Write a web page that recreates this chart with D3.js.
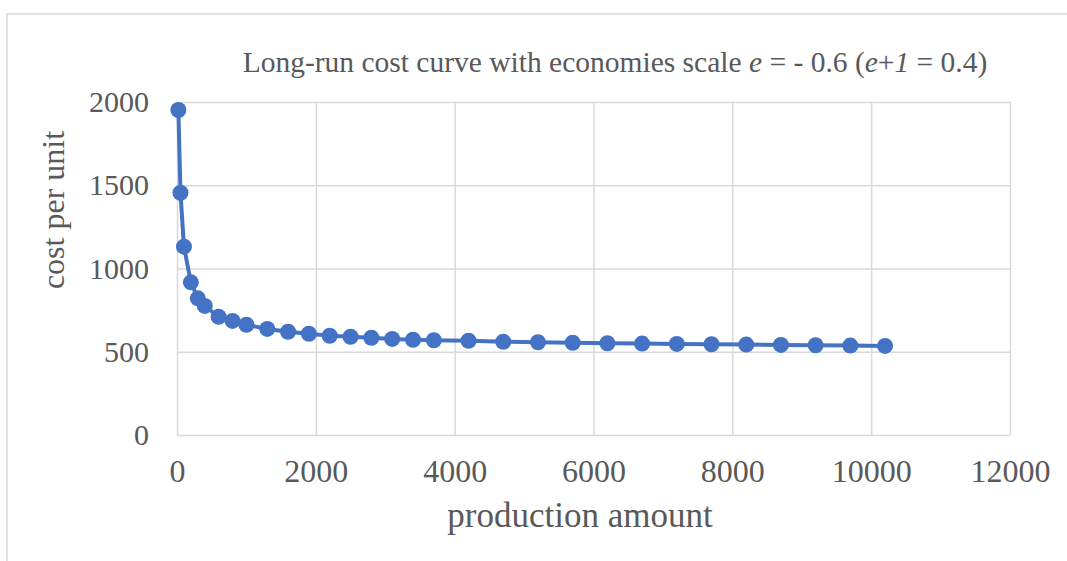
<!DOCTYPE html>
<html><head><meta charset="utf-8">
<script src="https://cdn.jsdelivr.net/npm/d3@7"></script>
<style>html,body{margin:0;padding:0;background:#fff;}svg{display:block;}</style>
</head><body>
<script>
const production = [20, 50, 100, 200, 300, 400, 600, 800, 1000, 1300, 1600, 1900, 2200, 2500, 2800, 3100, 3400, 3700, 4200, 4700, 5200, 5700, 6200, 6700, 7200, 7700, 8200, 8700, 9200, 9700, 10200];
const costPerUnit = [1952, 1455, 1131, 917, 821, 775, 710, 685, 662, 637, 620, 608, 596, 590, 584, 577, 572, 569, 566, 560, 557, 554, 551, 549, 547, 545, 543, 541, 539, 537, 535];
const xTicks = [0, 2000, 4000, 6000, 8000, 10000, 12000];
const yTicks = [0, 500, 1000, 1500, 2000];
const xTitle = "production amount";
const yTitle = "cost per unit";

const W = 1067, H = 561;
const m = {left: 177, right: 1010, top: 102, bottom: 435};
const svg = d3.select("body").append("svg").attr("width", W).attr("height", H);
const font = "'Liberation Serif','Times New Roman',serif";
const grey = "#595959", gridC = "#d9d9d9";

svg.append("rect").attr("x", 7).attr("y", 14).attr("width", W).attr("height", H)
  .attr("fill", "#fff").attr("stroke", gridC).attr("stroke-width", 1.5);

const x = d3.scaleLinear().domain([0, 12000]).range([m.left, m.right]);
const y = d3.scaleLinear().domain([0, 2000]).range([m.bottom, m.top]);

// gridlines
const gx = svg.append("g").attr("transform", `translate(0,${m.bottom})`)
  .call(d3.axisBottom(x).tickValues(xTicks).tickSize(-(m.bottom - m.top)).tickFormat(""));
const gy = svg.append("g").attr("transform", `translate(${m.left},0)`)
  .call(d3.axisLeft(y).tickValues(yTicks).tickSize(-(m.right - m.left)).tickFormat(""));
[gx, gy].forEach(g => {
  g.select(".domain").remove();
  g.selectAll(".tick line").attr("stroke", gridC).attr("stroke-width", 1.5);
});

// tick labels
const lx = svg.append("g").attr("transform", `translate(0,${m.bottom})`)
  .call(d3.axisBottom(x).tickValues(xTicks).tickSize(0).tickPadding(24).tickFormat(d3.format("d")));
lx.select(".domain").remove();
lx.selectAll("text").attr("font-family", font).attr("font-size", 32).attr("fill", grey);
const ly = svg.append("g").attr("transform", `translate(${m.left},0)`)
  .call(d3.axisLeft(y).tickValues(yTicks).tickSize(0).tickPadding(28).tickFormat(d3.format("d")));
ly.select(".domain").remove();
ly.selectAll("text").attr("font-family", font).attr("font-size", 30).attr("fill", grey);

// axis titles
svg.append("text").attr("x", 580).attr("y", 527)
  .attr("text-anchor", "middle").attr("font-family", font).attr("font-size", 35).attr("fill", grey).text(xTitle);
svg.append("text").attr("transform", `translate(64,210) rotate(-90)`)
  .attr("text-anchor", "middle").attr("font-family", font).attr("font-size", 32).attr("fill", grey).text(yTitle);

// title
const t = svg.append("text").attr("x", 615).attr("y", 72).attr("text-anchor", "middle")
  .attr("font-family", font).attr("font-size", 29.5).attr("fill", grey);
t.append("tspan").text("Long-run cost curve with economies scale ");
t.append("tspan").attr("font-style", "italic").text("e");
t.append("tspan").text(" = - 0.6 (");
t.append("tspan").attr("font-style", "italic").text("e");
t.append("tspan").text("+");
t.append("tspan").attr("font-style", "italic").text("1");
t.append("tspan").text(" = 0.4)");

// series
const data = production.map((p, i) => ({p, c: costPerUnit[i]}));
svg.append("path").datum(data)
  .attr("fill", "none").attr("stroke", "#4472C4").attr("stroke-width", 4).attr("stroke-linejoin", "round")
  .attr("d", d3.line().x(d => x(d.p)).y(d => y(d.c)));
svg.append("g").selectAll("circle").data(data).join("circle")
  .attr("cx", d => x(d.p)).attr("cy", d => y(d.c)).attr("r", 8).attr("fill", "#4472C4");
</script>
</body></html>
